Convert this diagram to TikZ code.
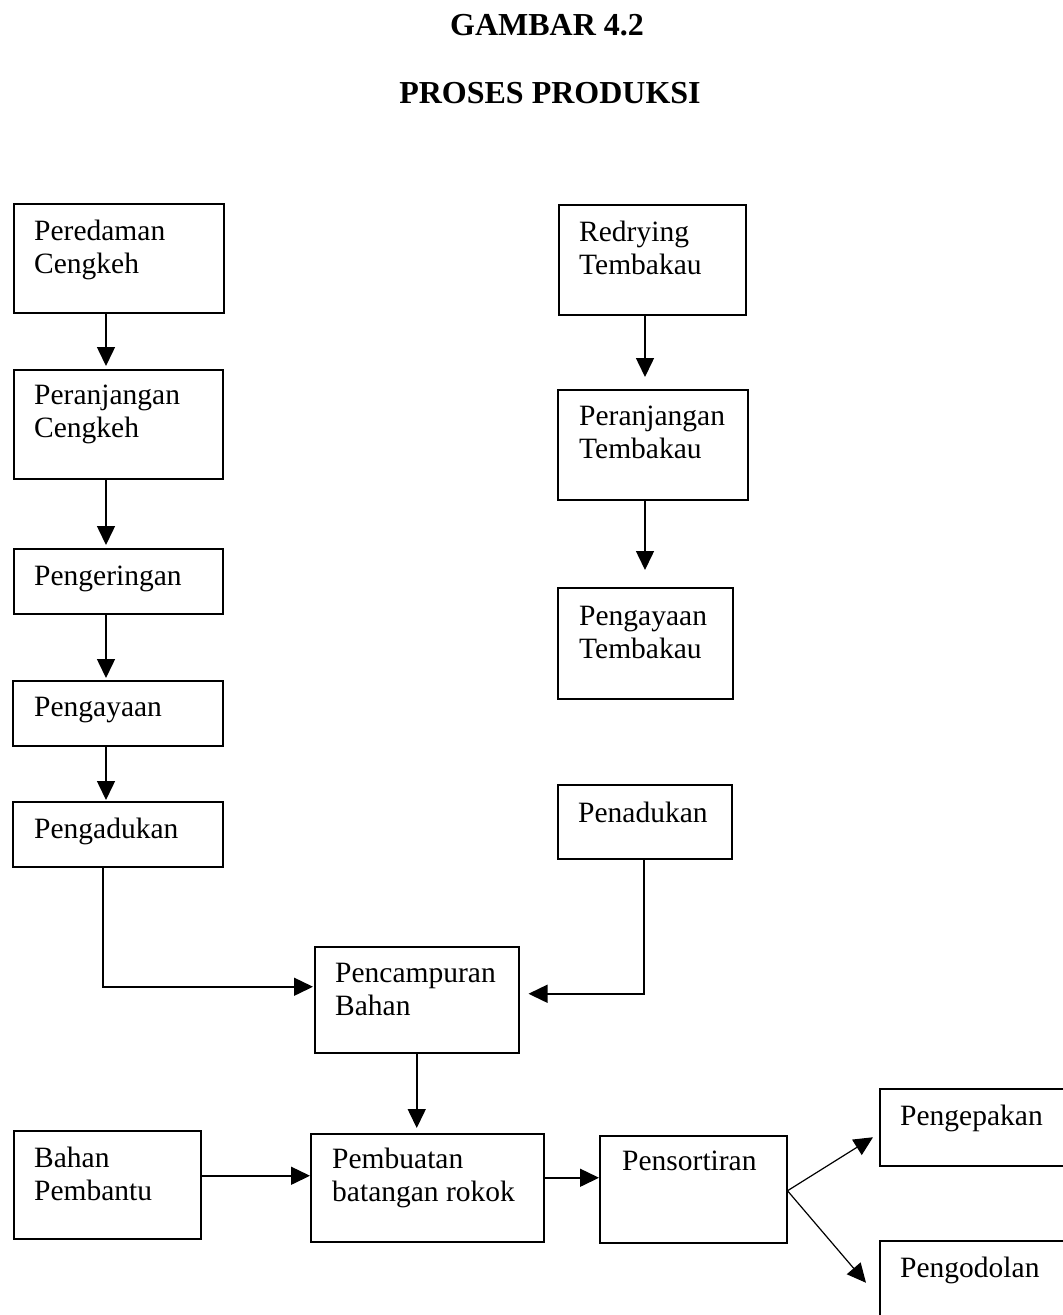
\documentclass[tikz,border=0pt]{standalone}
\usepackage{fontspec}
\setmainfont{Liberation Serif}
\usetikzlibrary{arrows.meta}
\tikzset{
  box/.style={draw, line width=1.5pt, inner sep=0pt, anchor=north west},
  txt/.style={anchor=base west, inner sep=0pt, font=\fontsize{29.5}{33}\selectfont},
  ttl/.style={anchor=base, inner sep=0pt, font=\fontsize{32}{36}\selectfont\bfseries},
  arr/.style={line width=1.5pt, -{Triangle[length=19pt,width=18pt]}},
  ln/.style={line width=1.5pt}
}
\newcommand{\twol}[2]{\begin{tabular}[t]{@{}l@{}}#1\\#2\end{tabular}}
\begin{document}
\begin{tikzpicture}[x=1pt,y=-1pt]
\useasboundingbox (0,0) rectangle (1063,1315);
\clip (0,0) rectangle (1063,1315);
\fill[white] (0,0) rectangle (1063,1315);

% titles
\node[ttl] (t1) at (547,35) {GAMBAR 4.2};
\node[ttl] (t2) at (550,103) {PROSES PRODUKSI};

% left column
\node[box, minimum width=210pt, minimum height=109pt] (A1) at (13,203) {};
\node[txt] (A1t) at (34,240) {\twol{Peredaman}{Cengkeh}};
\node[box, minimum width=209pt, minimum height=109pt] (A2) at (13,369) {};
\node[txt] (A2t) at (34,404) {\twol{Peranjangan}{Cengkeh}};
\node[box, minimum width=209pt, minimum height=65pt] (A3) at (13,548) {};
\node[txt] (A3t) at (34,585) {Pengeringan};
\node[box, minimum width=210pt, minimum height=65pt] (A4) at (12,680) {};
\node[txt] (A4t) at (34,716) {Pengayaan};
\node[box, minimum width=210pt, minimum height=65pt] (A5) at (12,801) {};
\node[txt] (A5t) at (34,838) {Pengadukan};

% right column
\node[box, minimum width=187pt, minimum height=110pt] (B1) at (558,204) {};
\node[txt] (B1t) at (579,241) {\twol{Redrying}{Tembakau}};
\node[box, minimum width=190pt, minimum height=110pt] (B2) at (557,389) {};
\node[txt] (B2t) at (579,425) {\twol{Peranjangan}{Tembakau}};
\node[box, minimum width=175pt, minimum height=111pt] (B3) at (557,587) {};
\node[txt] (B3t) at (579,625) {\twol{Pengayaan}{Tembakau}};
\node[box, minimum width=174pt, minimum height=74pt] (B4) at (557,784) {};
\node[txt] (B4t) at (578,822) {Penadukan};

% middle
\node[box, minimum width=204pt, minimum height=106pt] (C) at (314,946) {};
\node[txt] (Ct) at (335,982) {\twol{Pencampuran}{Bahan}};

% bottom row
\node[box, minimum width=187pt, minimum height=108pt] (D) at (13,1130) {};
\node[txt] (Dt) at (34,1167) {\twol{Bahan}{Pembantu}};
\node[box, minimum width=233pt, minimum height=108pt] (E) at (310,1133) {};
\node[txt] (Et) at (332,1168) {\twol{Pembuatan}{batangan rokok}};
\node[box, minimum width=187pt, minimum height=107pt] (F) at (599,1135) {};
\node[txt] (Ft) at (622,1170) {Pensortiran};
\node[box, minimum width=210pt, minimum height=77pt] (G) at (879,1088) {};
\node[txt] (Gt) at (900,1125) {Pengepakan};
\node[box, minimum width=210pt, minimum height=84pt] (H) at (879,1240) {};
\node[txt] (Ht) at (900,1277) {Pengodolan};

% guide coordinates
\coordinate (cl) at (106,0);
\coordinate (cm) at (103,0);
\coordinate (cr) at (645,0);

% left column arrows
\draw[arr, shorten >=3pt] (A1.south -| cl) -- (A2.north -| cl);
\draw[arr, shorten >=3pt] (A2.south -| cl) -- (A3.north -| cl);
\draw[arr, shorten >=2pt] (A3.south -| cl) -- (A4.north -| cl);
\draw[arr, shorten >=1pt] (A4.south -| cl) -- (A5.north -| cl);

% right column arrows
\draw[arr, shorten >=12pt] (B1.south -| cr) -- (B2.north -| cr);
\draw[arr, shorten >=17pt] (B2.south -| cr) -- (B3.north -| cr);

% into Pencampuran
\draw[arr, shorten >=1pt] (A5.south -| cm) |- ([yshift=13pt]C.west);
\draw[arr, shorten >=9pt] ([xshift=-1pt]B4.south) |- ([yshift=6pt]C.east);

% down to Pembuatan
\draw[arr, shorten >=5pt] (C.south) -- (C.south |- E.north);

% bottom row arrows
\draw[arr] ([yshift=9pt]D.east) -- ([yshift=9pt]D.east -| E.west);
\draw[arr] ([yshift=10pt]E.east) -- ([yshift=10pt]E.east -| F.west);
\coordinate (fo) at ([yshift=-1.5pt]F.east);
\draw[arr, line width=1.2pt] (fo) -- ([xshift=-6pt,yshift=-10pt]G.west);
\draw[arr, line width=1.2pt] (fo) -- ([xshift=-13pt]H.west);
\end{tikzpicture}
\end{document}
